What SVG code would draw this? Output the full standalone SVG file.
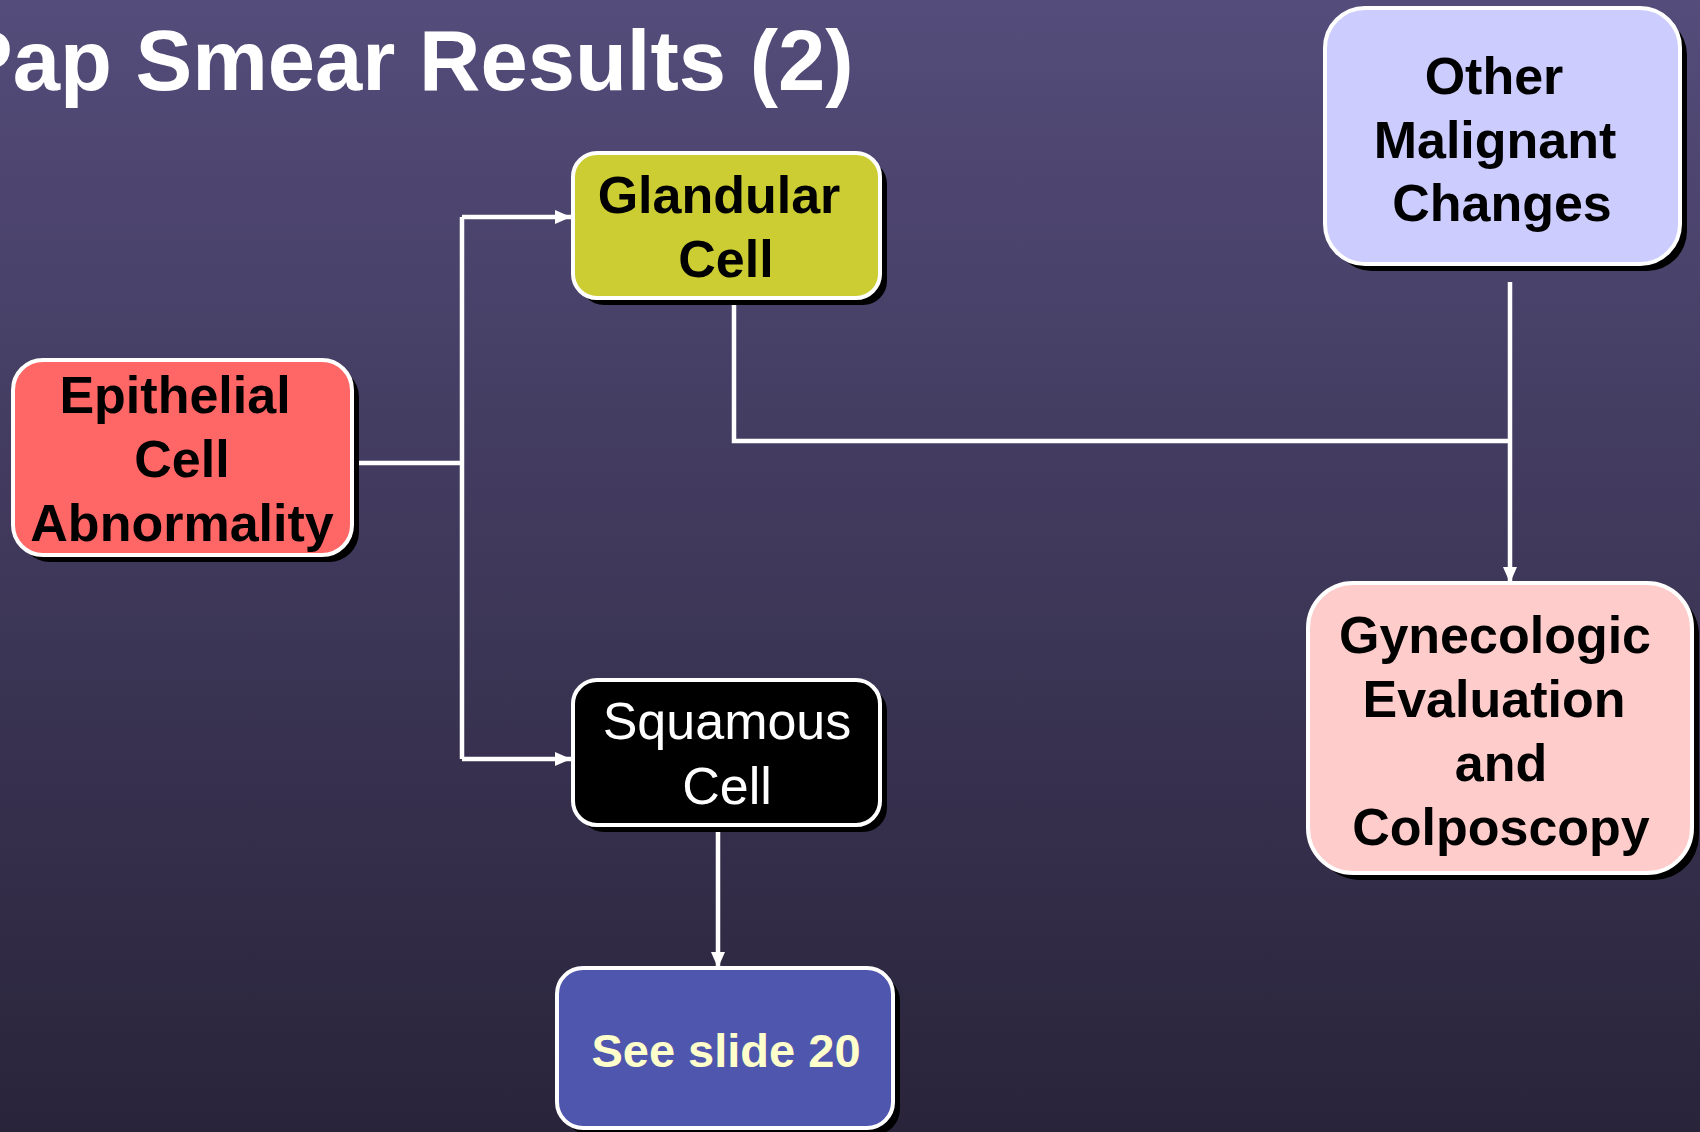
<svg xmlns="http://www.w3.org/2000/svg" width="1700" height="1132" viewBox="0 0 1700 1132">
  <defs>
    <linearGradient id="bg" x1="0" y1="0" x2="0" y2="1">
      <stop offset="0" stop-color="#544C7A"/>
      <stop offset="1" stop-color="#29243A"/>
    </linearGradient>
    <marker id="arr" viewBox="0 0 16 16" refX="16" refY="8" markerWidth="16" markerHeight="16" markerUnits="userSpaceOnUse" orient="auto">
      <path d="M0,1 L16,8 L0,15 Z" fill="#FFFFFF"/>
    </marker>
    <style>
      .box { stroke: #FFFFFF; stroke-width: 4; }
      .shadow { fill: #000000; }
      .lbl { font-family: "Liberation Sans", Arial, sans-serif; font-size: 52px; font-weight: bold; fill: #000000; text-anchor: middle; }
      .reg { font-weight: normal; fill: #FFFFFF; }
      .conn { fill: none; stroke: #FFFFFF; stroke-width: 4.5; }
      .title { font-family: "Liberation Sans", Arial, sans-serif; font-size: 85px; font-weight: bold; fill: #FFFFFF; }
    </style>
  </defs>
  <rect x="0" y="0" width="1700" height="1132" fill="url(#bg)"/>
  <text class="title" x="-44" y="90">Pap Smear Results (2)</text>

  <g id="connectors">
    <polyline class="conn" points="352,463 462,463"/>
    <polyline class="conn" points="462,217 462,759"/>
    <polyline class="conn" points="462,217 571,217" marker-end="url(#arr)"/>
    <polyline class="conn" points="462,759 571,759" marker-end="url(#arr)"/>
    <polyline class="conn" points="734,297 734,441 1510,441"/>
    <polyline class="conn" points="1510,282 1510,583" marker-end="url(#arr)"/>
    <polyline class="conn" points="718,826 718,968" marker-end="url(#arr)"/>
  </g>

  <g id="epithelial">
    <rect class="shadow" x="20" y="367" width="339" height="195" rx="30"/>
    <rect class="box" x="13" y="360" width="339" height="195" rx="30" fill="#FF6666"/>
    <text class="lbl" x="175" y="413">Epithelial</text>
    <text class="lbl" x="182" y="477">Cell</text>
    <text class="lbl" x="182" y="541">Abnormality</text>
  </g>

  <g id="glandular">
    <rect class="shadow" x="580" y="160" width="307" height="145" rx="24"/>
    <rect class="box" x="573" y="153" width="307" height="145" rx="24" fill="#CCCC33"/>
    <text class="lbl" x="719" y="213">Glandular</text>
    <text class="lbl" x="726" y="277">Cell</text>
  </g>

  <g id="other">
    <rect class="shadow" x="1332" y="15" width="355" height="256" rx="40"/>
    <rect class="box" x="1325" y="8" width="355" height="256" rx="40" fill="#CCCCFF"/>
    <text class="lbl" x="1494" y="94">Other</text>
    <text class="lbl" x="1495" y="158">Malignant</text>
    <text class="lbl" x="1502" y="221">Changes</text>
  </g>

  <g id="squamous">
    <rect class="shadow" x="580" y="687" width="307" height="145" rx="24"/>
    <rect class="box" x="573" y="680" width="307" height="145" rx="24" fill="#000000"/>
    <text class="lbl reg" x="727" y="739">Squamous</text>
    <text class="lbl reg" x="727" y="804">Cell</text>
  </g>

  <g id="seeslide">
    <rect class="shadow" x="564" y="975" width="336" height="160" rx="26"/>
    <rect class="box" x="557" y="968" width="336" height="160" rx="26" fill="#4F56AD"/>
    <text class="lbl" x="726" y="1067" style="font-size:47px; fill:#FFFFCC">See slide 20</text>
  </g>

  <g id="gynecologic">
    <rect class="shadow" x="1315" y="590" width="384" height="290" rx="45"/>
    <rect class="box" x="1308" y="583" width="384" height="290" rx="45" fill="#FFCCCC"/>
    <text class="lbl" x="1495" y="653">Gynecologic</text>
    <text class="lbl" x="1494" y="717">Evaluation</text>
    <text class="lbl" x="1501" y="781">and</text>
    <text class="lbl" x="1501" y="845">Colposcopy</text>
  </g>
</svg>
